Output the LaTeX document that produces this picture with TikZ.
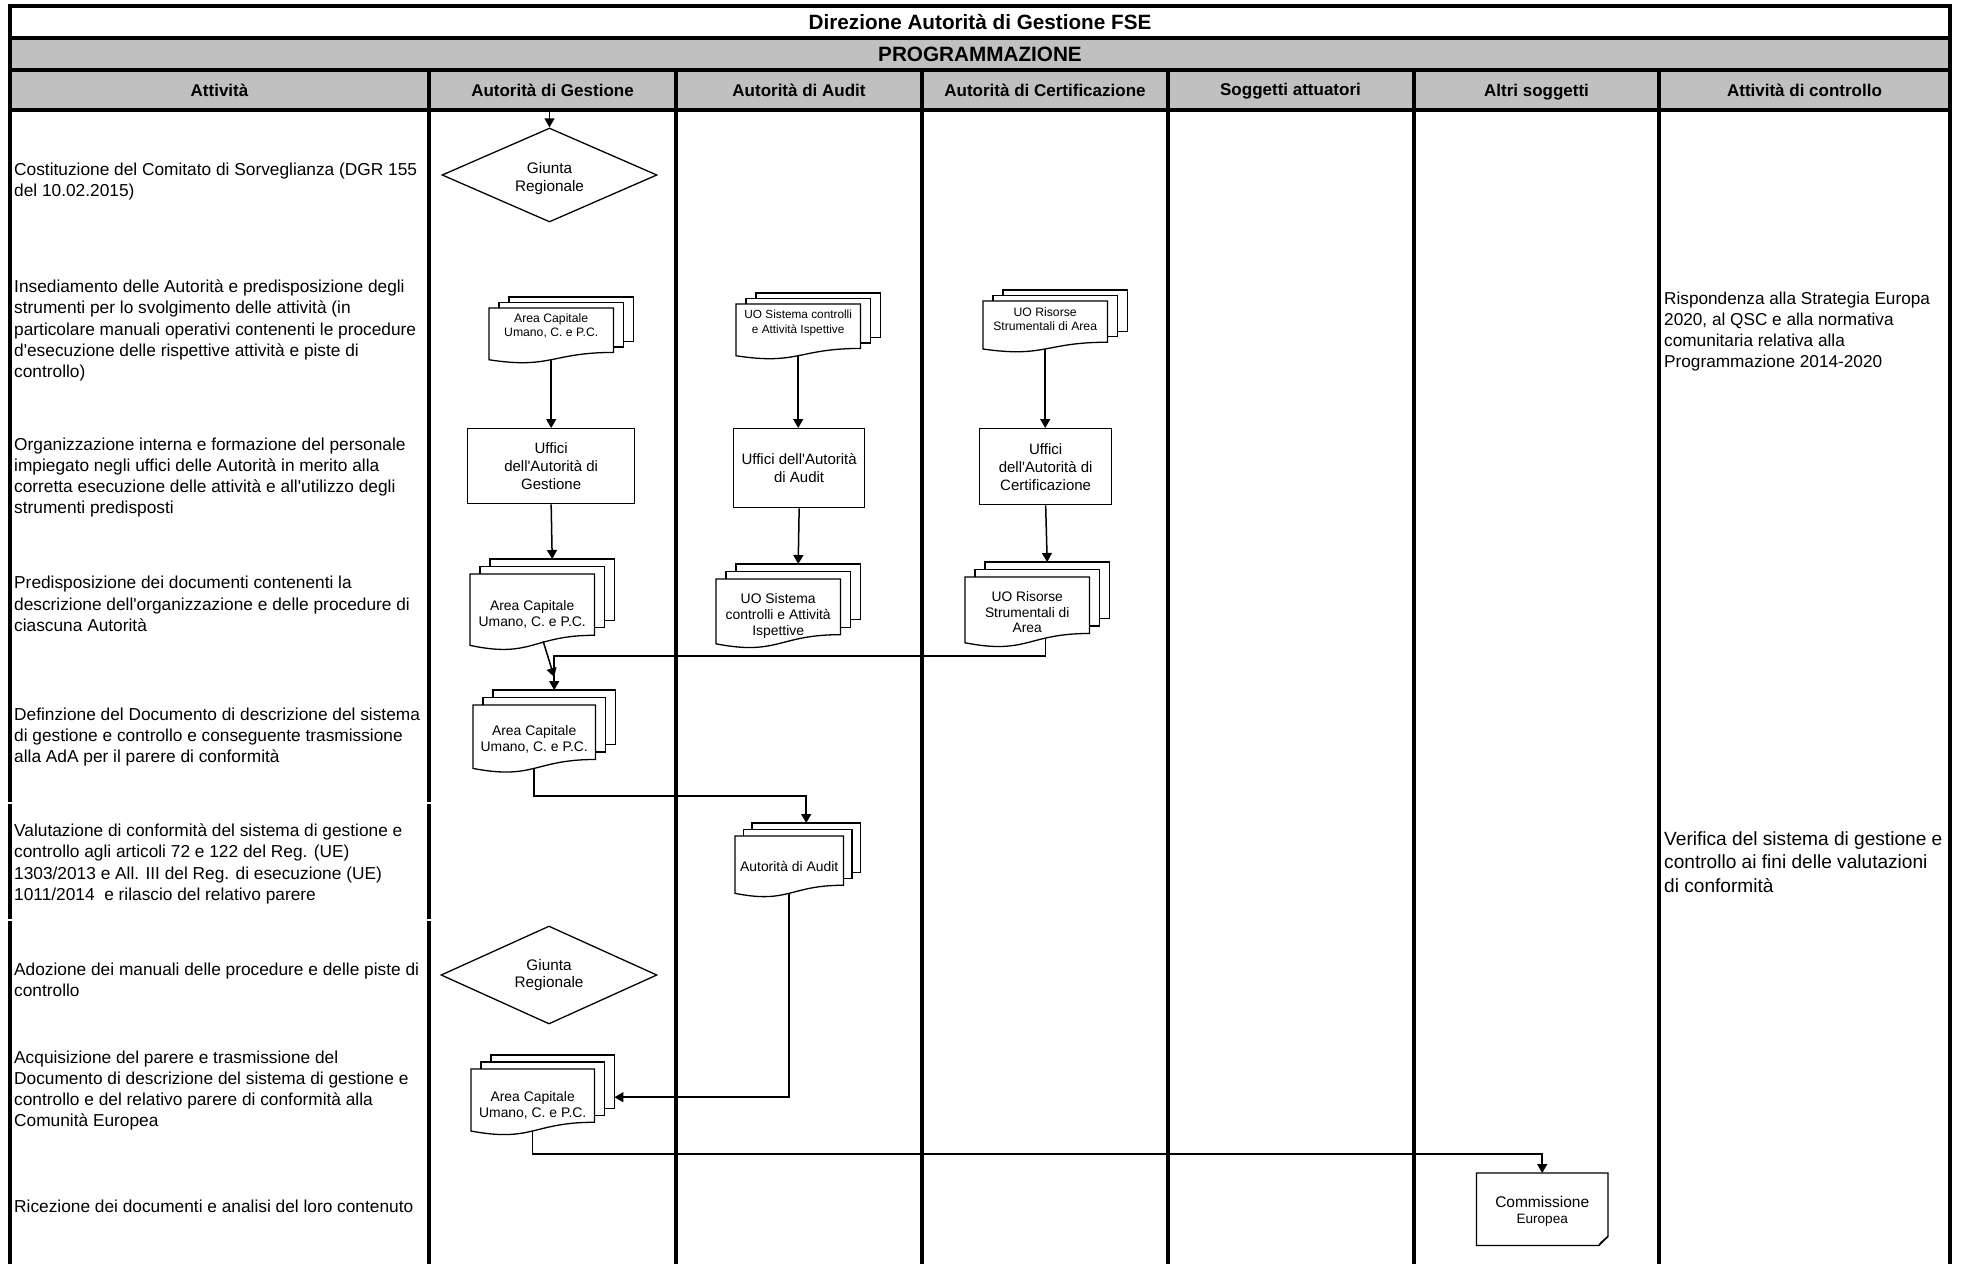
\documentclass[tikz,border=0pt]{standalone}
\usepackage{fontspec}
\setmainfont{Liberation Sans}[Ligatures=TeXOff]
\usetikzlibrary{arrows.meta,calc,shapes.geometric}
\pgfdeclarelayer{grid}
\pgfdeclarelayer{bg}
\pgfsetlayers{grid,bg,main}
\definecolor{hdr}{RGB}{192,192,192}

\newcommand\fs[2]{\fontsize{#1pt}{#2pt}\selectfont}

\tikzset{
  tablerule/.style={line width=4pt, line cap=butt},
  colhead/.style={font=\bfseries\fs{17}{20}, inner sep=0pt, text height=12.5pt, text depth=0pt},
  titletext/.style={font=\bfseries\fs{20.7}{24}, inner sep=0pt},
  activity/.style={anchor=west, align=left, inner sep=0pt, font=\fs{17.3}{21.3}},
  ctrltext/.style={anchor=west, align=left, inner sep=0pt},
  boxline/.style={draw=black, line width=1.3pt, fill=white},
  office/.style={boxline, rectangle, anchor=north west, inner sep=0pt, align=center, font=\fs{15}{18}},
  decision/.style={boxline, diamond, aspect=2.2, inner sep=0pt},
  decisiontext/.style={align=center, inner sep=0pt, font=\fs{15.3}{17.5}},
  docbox/.style={rectangle, inner sep=0pt, anchor=north west},
  docline/.style={draw=black, line width=1.3pt, fill=white, line join=miter},
  doctext/.style={align=center, inner sep=0pt, font=\fs{13.9}{16}},
  smalldoc/.style={font=\fs{12.2}{13.8}},
  flow/.style={draw=black, line width=1.5pt, -{Triangle[length=9pt,width=10pt]}},
}

% offset of the two rear sheets of a multi-document symbol
\newcommand\docdx{10}
\newcommand\docdy{6.5}

% multi-document symbol: [text options]{name}{top-left}{width}{height}{text}
\newcommand\mdoc[6][]{%
  \node[docbox, minimum width=#4pt, minimum height=#5pt] (#2) at (#3) {};
  \begin{pgfonlayer}{bg}
    \path[docline] ($(#2.north west)+(2*\docdx,-2*\docdy)$) rectangle
      ($(#2.north east)!0.802!(#2.south east)+(2*\docdx,-2*\docdy)$);
    \path[docline] ($(#2.north west)+(\docdx,-\docdy)$) rectangle
      ($(#2.north east)!0.802!(#2.south east)+(\docdx,-\docdy)$);
    \path[docline] (#2.north west) -- (#2.north east)
      -- ($(#2.north east)!0.802!(#2.south east)$)
      .. controls ($(#2.north)!0.802!(#2.south)$) and ($(#2.north)!1.1075!(#2.south)$)
      .. ($(#2.north west)!0.934!(#2.south west)$) -- cycle;
  \end{pgfonlayer}
  \node[doctext,#1] (#2-t) at (#2.center) {#6};
  \coordinate (#2-top) at ($(#2.north)+(2*\docdx,-2*\docdy)$);
  \coordinate (#2-w) at ($(#2.north)!0.933!(#2.south)$);
}

\begin{document}
\begin{tikzpicture}[x=1pt,y=-1pt]
\useasboundingbox (0,0) rectangle (1962,1264);

% ---------- table grid ----------
\begin{pgfonlayer}{grid}
  \fill[white] (0,0) rectangle (1962,1264);
  \fill[hdr] (10,38) rectangle (1950,110);
  \draw[tablerule] (10,1264) -- (10,5.5) -- (1950,5.5) -- (1950,1264);
  \foreach \y in {38,70,110} \draw[tablerule] (10,\y) -- (1950,\y);
  \foreach \x in {429,676,922,1167.5,1414,1659} \draw[tablerule] (\x,70) -- (\x,1264);
  \foreach \y in {803,920} {
    \draw[white, line width=1.2pt] (6,\y) -- (14,\y);
    \draw[white, line width=1.2pt] (425,\y) -- (433,\y);
  }
\end{pgfonlayer}

% ---------- headings ----------
\node[titletext] (title) at (980,22) {Direzione Autorità di Gestione FSE};
\node[titletext] (phase) at (980,54) {PROGRAMMAZIONE};
\node[colhead, minimum width=415pt, minimum height=40pt] (hAtt) at (219.5,90) {Attività};
\node[colhead, minimum width=243pt, minimum height=40pt] (hAdG) at (552.5,90) {Autorità di Gestione};
\node[colhead, minimum width=242pt, minimum height=40pt] (hAdA) at (799,90) {Autorità di Audit};
\node[colhead, minimum width=241pt, minimum height=40pt] (hAdC) at (1045,90) {Autorità di Certificazione};
\node[colhead, minimum width=242pt, minimum height=40pt] (hSA) at (1290.5,89) {Soggetti attuatori};
\node[colhead, minimum width=241pt, minimum height=40pt] (hAS) at (1536.5,90) {Altri soggetti};
\node[colhead, minimum width=287pt, minimum height=40pt] (hCtl) at (1804.5,90) {Attività di controllo};

% ---------- activities ----------
\node[activity] (L1) at (14,181.5) {Costituzione del Comitato di Sorveglianza (DGR 155\\del 10.02.2015)};
\node[activity] (L2) at (14,330.5) {Insediamento delle Autorità e predisposizione degli\\strumenti per lo svolgimento delle attività (in\\particolare manuali operativi contenenti le procedure\\d'esecuzione delle rispettive attività e piste di\\controllo)};
\node[activity] (L3) at (14,477.5) {Organizzazione interna e formazione del personale\\impiegato negli uffici delle Autorità in merito alla\\corretta esecuzione delle attività e all'utilizzo degli\\strumenti predisposti};
\node[activity] (L4) at (14,604) {Predisposizione dei documenti contenenti la\\descrizione dell'organizzazione e delle procedure di\\ciascuna Autorità};
\node[activity] (L5) at (14,737) {Definzione del Documento di descrizione del sistema\\di gestione e controllo e conseguente trasmissione\\alla AdA per il parere di conformità};
\node[activity] (L6) at (14,864) {Valutazione di conformità del sistema di gestione e\\controllo agli articoli 72 e 122 del Reg. (UE)\\1303/2013 e All. III del Reg. di esecuzione (UE)\\1011/2014~ e rilascio del relativo parere};
\node[activity] (L7) at (14,979.5) {Adozione dei manuali delle procedure e delle piste di\\controllo};
\node[activity] (L8) at (14,1090.5) {Acquisizione del parere e trasmissione del\\Documento di descrizione del sistema di gestione e\\controllo e del relativo parere di conformità alla\\Comunità Europea};
\node[activity] (L9) at (14,1206) {Ricezione dei documenti e analisi del loro contenuto};

% ---------- control notes ----------
\node[ctrltext, font=\fs{17.2}{21.3}] (R1) at (1664,331.5) {Rispondenza alla Strategia Europa\\2020, al QSC e alla normativa\\comunitaria relativa alla\\Programmazione 2014-2020};
\node[ctrltext, font=\fs{19.1}{23.4}] (R2) at (1664,862) {Verifica del sistema di gestione e\\controllo ai fini delle valutazioni\\di conformità};

% ---------- flow symbols ----------
\node[decision, minimum width=215pt, minimum height=94pt] (dia1) at (549.5,175) {};
\node[decisiontext, yshift=-3.5pt] (dia1-t) at (dia1.center) {Giunta\\Regionale};
\node[decision, minimum width=216pt, minimum height=98pt] (dia2) at (549,975) {};
\node[decisiontext] (dia2-t) at (dia2.center) {Giunta\\Regionale};

\renewcommand\docdy{5.5}
\mdoc[smalldoc,yshift=10pt]{A1}{489,308}{124}{55}{Area Capitale\\Umano, C. e P.C.}
\mdoc[font=\fs{11.8}{14.5},yshift=9pt]{A2}{736,304}{124}{55}{UO Sistema controlli\\e Attività Ispettive}
\mdoc[smalldoc,yshift=7.5pt]{A3}{983,301}{124}{51}{UO Risorse\\Strumentali di Area}

\node[office, minimum width=167pt, minimum height=75pt] (B1) at (467,428) {Uffici\\dell'Autorità di\\Gestione};
\node[office, minimum width=131pt, minimum height=79pt] (B2) at (733,428) {Uffici dell'Autorità\\di Audit};
\node[office, minimum width=132pt, minimum height=76pt] (B3) at (979,428) {Uffici\\dell'Autorità di\\Certificazione};

\renewcommand\docdy{7.5}
\mdoc[yshift=-2pt]{C1}{470,574}{124}{76}{Area Capitale\\Umano, C. e P.C.}
\mdoc[yshift=-2pt]{C2}{716,579}{124}{69}{UO Sistema\\controlli e Attività\\Ispettive}
\mdoc[font=\fs{13.8}{15.5}]{C3}{965,577}{124}{70}{UO Risorse\\Strumentali di\\Area}
\mdoc{D1}{473,705}{122}{67.5}{Area Capitale\\Umano, C. e P.C.}

\renewcommand\docdx{8.5}
\renewcommand\docdy{6.5}
\mdoc{E1}{735,836}{108}{61}{Autorità di Audit}

\renewcommand\docdx{10}
\renewcommand\docdy{7}
\mdoc[yshift=-3pt]{F1}{471,1069}{123}{66}{Area Capitale\\Umano, C. e P.C.}

% note with folded corner
\node[docbox, minimum width=131pt, minimum height=72pt] (G1) at (1476.5,1173) {};
\begin{pgfonlayer}{bg}
  \path[docline] (G1.north west) -- (G1.north east) -- ($(G1.south east)+(0,-9)$)
    -- ($(G1.south east)+(-9,0)$) -- (G1.south west) -- cycle;
  \draw[line width=1.1pt] ($(G1.south east)+(0,-9)$) -- ($(G1.south east)+(-7,-3)$) -- ($(G1.south east)+(-9,0)$);
\end{pgfonlayer}
\node[doctext, yshift=-2.5pt] (G1-t) at (G1.center) {\fs{15.5}{18}Commissione\\\fs{13.6}{17}Europea};

% ---------- connectors ----------
\draw[flow] (dia1.north |- hAdG.south) -- (dia1.north);
\draw[flow] (A1-w) -- (A1-w |- B1.north);
\draw[flow] (A2-w) -- (A2-w |- B2.north);
\draw[flow] (A3-w) -- (A3-w |- B3.north);
\draw[flow] (B1.south) -- (C1-top);
\draw[flow] (B2.south) -- (C2-top);
\draw[flow] (B3.south) -- (C3-top);
\draw[flow] ($(C1.south)+(11,-9)$) -- ($(D1-top)+(0,-13)$);
\draw[flow] ($(C3.south -| B3.south)+(0,-8)$) |- ($(D1-top)+(0,-34)$) -- (D1-top);
\draw[flow] (D1-w) |- ($(E1-top)+(0,-27)$) -- (E1-top);
\draw[flow] (E1-w) |- ($(F1.east)+(20,-5)$);
\draw[flow] (F1-w) |- ($(G1.north)+(0,-19)$) -- (G1.north);
\end{tikzpicture}
\end{document}
